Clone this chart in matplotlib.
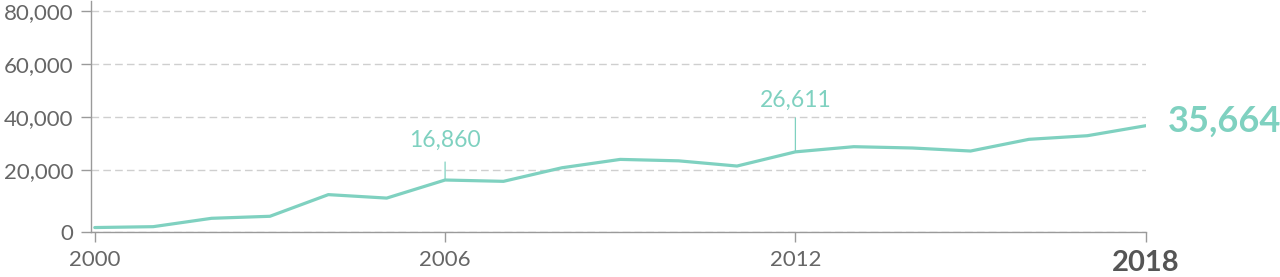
import matplotlib.pyplot as plt

plt.rcParams['font.family'] = ['Lato', 'DejaVu Sans']

years = list(range(2000, 2019))
values = [400, 700, 3600, 4300, 11800, 10600, 16860, 16400, 21100, 24000,
          23500, 21700, 26611, 28400, 27950, 26900, 30950, 32200, 35664]
x_ticks = [2000, 2006, 2012, 2018]
y_ticks = [20000, 40000, 60000, 80000]
y_labels = ['20,000', '40,000', '60,000', '80,000']
callouts = {2006: '16,860', 2012: '26,611'}   # year -> label
last_label = '35,664'

teal = '#7fd1c0'
axis_gray = '#9a9a9a'
text_gray = '#666666'

fig = plt.figure(figsize=(12.8, 2.77), dpi=100)
# axes box in pixel terms of the 1280x277 reference
ax = fig.add_axes([90.7 / 1280, 1 - 232.3 / 277, (1145.7 - 90.7) / 1280, 231.3 / 277])

# the gridline scale and the data scale of the original do not agree,
# so the grid lives on ax and the line on a hidden twin
grid_bottom = -3670
ax.set_ylim(grid_bottom, 83780)
ax.set_xlim(1999.93, 2018)
ax.set_yticks([grid_bottom] + y_ticks, ['0'] + y_labels)
ax.set_xticks(x_ticks, [str(y) for y in x_ticks])
ax.yaxis.grid(True, color='#cfcfcf', lw=1, ls=(0, (5.5, 3)))
ax.set_axisbelow(True)

for s in ['top', 'right']:
    ax.spines[s].set_visible(False)
for s in ['left', 'bottom']:
    ax.spines[s].set_color(axis_gray)
    ax.spines[s].set_linewidth(1)

ax.tick_params(axis='both', color=axis_gray, length=7.5, width=1,
               labelsize=16, labelcolor=text_gray)
ax.tick_params(axis='y', pad=5)
ax.tick_params(axis='x', pad=5)
last = ax.get_xticklabels()[-1]
last.set_fontweight('bold')
last.set_fontsize(21)
last.set_color('#555555')

ax2 = ax.twinx()
ax2.set_ylim(-1247, 78853)
ax2.set_axis_off()
ax2.plot(years, values, color=teal, lw=2.3, solid_joinstyle='round',
         solid_capstyle='round')

# callouts with thin leader lines
leader = {2006: 18, 2012: 34}
text_off = {2006: 29, 2012: 41}
for yr, lab in callouts.items():
    v = values[years.index(yr)]
    ax2.annotate('', xy=(yr, v), xytext=(0, leader[yr]), textcoords='offset pixels',
                 arrowprops=dict(arrowstyle='-', color=teal, lw=0.9,
                                 shrinkA=0, shrinkB=0))
    ax2.annotate(lab, xy=(yr, v), xytext=(0, text_off[yr]), textcoords='offset pixels',
                 ha='center', va='bottom', color=teal, fontsize=16.5)

ax2.annotate(last_label, xy=(years[-1], values[-1]), xytext=(22, 4),
             textcoords='offset pixels', ha='left', va='center',
             color=teal, fontsize=26, fontweight='bold', annotation_clip=False)

fig.savefig('out.png', dpi=100)
